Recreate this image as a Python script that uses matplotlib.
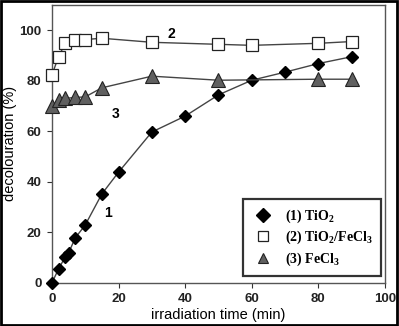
import matplotlib
matplotlib.use("Agg")
import matplotlib.pyplot as plt
from matplotlib.patches import Rectangle

# Data
t1 = [0, 2, 4, 5, 7, 10, 15, 20, 30, 40, 50, 60, 70, 80, 90]
y1 = [0, 5.5, 10.3, 11.8, 17.8, 22.9, 35.2, 43.8, 59.7, 66, 74.4, 80.2, 83.4, 86.8, 89.5]
t2 = [0, 2, 4, 7, 10, 15, 30, 50, 60, 80, 90]
y2 = [82.2, 89.5, 94.8, 96, 96.3, 96.8, 95.2, 94.4, 94, 94.8, 95.5]
t3 = [0, 2, 4, 7, 10, 15, 30, 50, 80, 90]
y3 = [70, 72.3, 73, 73.4, 73.6, 77.2, 81.8, 80.2, 80.6, 80.6]
labels = ["(1) TiO$_\\mathbf{2}$", "(2) TiO$_\\mathbf{2}$/FeCl$_\\mathbf{3}$", "(3) FeCl$_\\mathbf{3}$"]
xticks = [0, 20, 40, 60, 80, 100]
yticks = [0, 20, 40, 60, 80, 100]

plt.rcParams['font.family'] = ['Liberation Sans', 'DejaVu Sans']
plt.rcParams['mathtext.fontset'] = 'custom'
plt.rcParams['mathtext.rm'] = 'Liberation Serif'
plt.rcParams['mathtext.bf'] = 'Liberation Serif:bold'
plt.rcParams['mathtext.it'] = 'Liberation Serif:italic'

fig = plt.figure(figsize=(3.99, 3.26), dpi=100)
ax = fig.add_axes([0.130, 0.132, 0.835, 0.853])

lc = '#444444'
l1, = ax.plot(t1, y1, '-', color=lc, lw=1.0, marker='D', ms=6.5, mfc='black', mec='black', zorder=3, clip_on=False)
l2, = ax.plot(t2, y2, '-', color=lc, lw=1.0, marker='s', ms=9, mfc='white', mec='#222222', mew=0.9, zorder=3, clip_on=False)
l3, = ax.plot(t3, y3, '-', color=lc, lw=1.0, marker='^', ms=9.5, mfc='#606060', mec='#222222', mew=0.8, zorder=3, clip_on=False)

ax.set_xlim(0, 100)
ax.set_ylim(0, 110)
ax.set_xticks(xticks)
ax.set_yticks(yticks)
ax.tick_params(direction='out', length=3.5, width=0.8, color='#333333', labelsize=9.5, pad=4)
for lab in ax.get_xticklabels() + ax.get_yticklabels():
    lab.set_fontweight('bold')
    lab.set_color('#222222')
for s in ax.spines.values():
    s.set_color('#555555')
    s.set_linewidth(1.0)

ax.set_xlabel("irradiation time (min)", fontsize=10.5, labelpad=2)
ax.set_ylabel("decolouration (%)", fontsize=10.5, labelpad=2)

ax.text(16.9, 27.7, "1", fontsize=10, fontweight='bold', ha='center', va='center')
ax.text(36, 98.5, "2", fontsize=10, fontweight='bold', ha='center', va='center')
ax.text(19, 67, "3", fontsize=10, fontweight='bold', ha='center', va='center')

leg = ax.legend([l1, l2, l3], labels, loc='lower right', bbox_to_anchor=(0.988, 0.025),
                borderaxespad=0,
                prop={'family': 'Liberation Serif', 'size': 10, 'weight': 'bold'},
                frameon=True, fancybox=False, handlelength=1.7, handletextpad=0.7,
                borderpad=0.6, labelspacing=0.3)
leg.get_frame().set_edgecolor('black')
leg.get_frame().set_linewidth(1.6)
for h in leg.legend_handles:
    h.set_linestyle('None')
    h.set_markersize(7)

fig.add_artist(Rectangle((0.002, 0.002), 0.994, 0.994, transform=fig.transFigure,
                         fill=False, edgecolor='black', lw=2))

fig.savefig("out.png", dpi=100)
